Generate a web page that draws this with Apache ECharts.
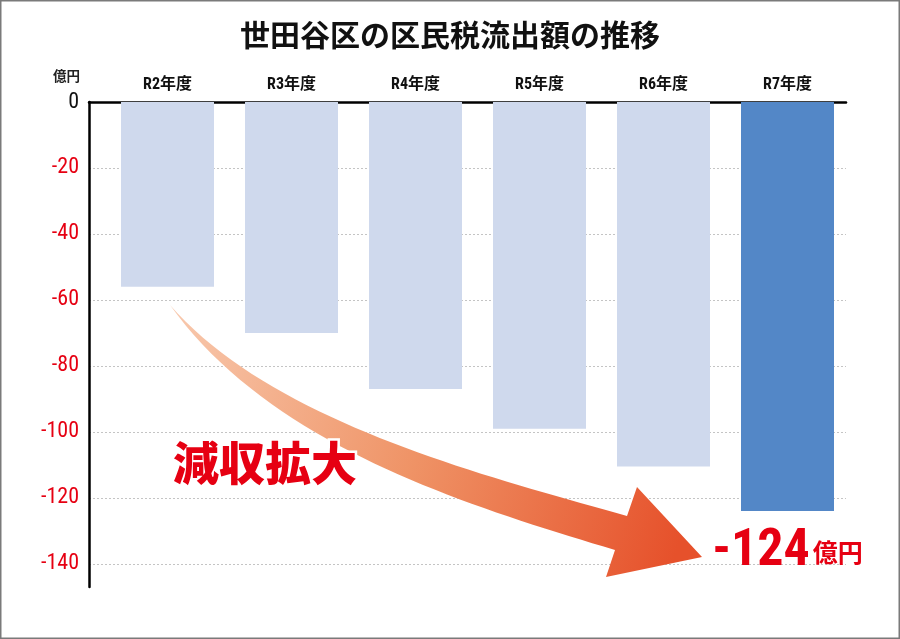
<!DOCTYPE html>
<html><head><meta charset="utf-8">
<script src="https://cdn.jsdelivr.net/npm/echarts@6.0.0/dist/echarts.min.js"></script>
<style>html,body{margin:0;padding:0;background:#fff}#c{width:900px;height:639px}</style>
</head><body><div id="c"></div>
<script>
const categories = ['R2年度','R3年度','R4年度','R5年度','R6年度','R7年度'];
const values = [-56, -70, -87, -99, -110.5, -124];
const yTicks = [0, -20, -40, -60, -80, -100, -120, -140];
const highlightIndex = 5;
const unitLabel = '億円';
const titleText = '世田谷区の区民税流出額の推移';
const calloutText = '減収拡大';

const NARROW = "'Roboto Condensed','Liberation Sans Narrow','Open Sans',Roboto,'Noto Sans CJK JP',sans-serif";
const CJK = "'Noto Sans CJK JP',sans-serif";
const RED = '#e60012';

const chart = echarts.init(document.getElementById('c'), null, {width: 900, height: 639});

const barData = values.map((v, i) => ({
  value: v,
  itemStyle: {color: i === highlightIndex ? '#5387c7' : '#cfd9ed'},
  label: i === highlightIndex ? {
    show: true, position: 'bottom', distance: 15,
    formatter: p => '{a|' + p.value + '}{b|' + unitLabel + '}',
    rich: {
      a: {fontFamily: NARROW, fontSize: 52, fontWeight: 'bold condensed', color: RED},
      b: {fontFamily: CJK, fontSize: 25, fontWeight: 'bold', color: RED, padding: [0, 0, 0, 3]}
    }
  } : {show: false}
}));

// decorative curved arrow (annotation), sampled from cubic curves
function cubic(p0, p1, p2, p3, n) {
  const out = [];
  for (let k = 0; k <= n; k++) {
    const t = k / n, u = 1 - t;
    out.push([
      u*u*u*p0[0] + 3*u*u*t*p1[0] + 3*u*t*t*p2[0] + t*t*t*p3[0],
      u*u*u*p0[1] + 3*u*u*t*p1[1] + 3*u*t*t*p2[1] + t*t*t*p3[1]
    ]);
  }
  return out;
}
const upper = cubic([170,305],[270,420],[477,474],[627,516], 40);
const lower = cubic([615,550],[465,505],[270,445],[170,305], 40);
const arrowPts = upper.concat([[637,487],[702,557],[606,577]], lower);

chart.setOption({
  animation: false,
  backgroundColor: '#fff',
  title: {
    text: titleText, left: 'center', top: 15,
    textStyle: {fontFamily: CJK, fontSize: 30, fontWeight: 'bold', color: '#111'}
  },
  grid: [
    {left: 89, right: 54, top: 102, bottom: 52},
    {left: 105.5, right: 50.5, top: 102, bottom: 52}
  ],
  xAxis: [
    {gridIndex: 0, type: 'category', position: 'top', data: categories,
     axisLine: {show: true, lineStyle: {color: '#000', width: 2.5}},
     axisTick: {show: false}, axisLabel: {show: false}, splitLine: {show: false}},
    {gridIndex: 1, type: 'category', position: 'top', data: categories,
     axisLine: {show: false}, axisTick: {show: false}, splitLine: {show: false},
     axisLabel: {margin: 9, fontFamily: NARROW, fontSize: 16, fontWeight: 'bold', color: '#111'}}
  ],
  yAxis: [
    {gridIndex: 0, type: 'value', min: -147, max: 0,
     name: unitLabel, nameLocation: 'end', nameGap: 19,
     nameTextStyle: {fontFamily: CJK, fontSize: 13.5, fontWeight: 'bold', color: '#222', align: 'right', padding: [0, 9, 0, 0]},
     axisLine: {show: true, lineStyle: {color: '#000', width: 2.5}},
     axisTick: {show: false, customValues: yTicks},
     axisLabel: {customValues: yTicks, margin: 10, fontFamily: NARROW, fontSize: 22, fontWeight: 'normal condensed',
       color: v => (Number(v) === 0 ? '#111' : RED),
       formatter: v => String(v)},
     splitLine: {show: true, lineStyle: {color: '#c4c4c4', width: 1, type: [2, 2]}}},
    {gridIndex: 1, type: 'value', min: -147, max: 0, show: false, splitLine: {show: false}}
  ],
  series: [{
    type: 'bar', xAxisIndex: 1, yAxisIndex: 1, data: barData, barWidth: '75%'
  }],
  graphic: [
    {type: 'polygon', z: 100, shape: {points: arrowPts},
     style: {fill: new echarts.graphic.LinearGradient(0, 0, 1, 0.6, [
       {offset: 0, color: '#f8c9ae'}, {offset: 0.5, color: '#ef9366'}, {offset: 1, color: '#e6512b'}])}},
    {type: 'text', z: 110, x: 265, y: 463,
     style: {text: calloutText, fontFamily: CJK, fontSize: 46, fontWeight: 900, fill: RED,
       stroke: '#fff', lineWidth: 5, strokeFirst: true, align: 'center', verticalAlign: 'middle'}},
    {type: 'rect', z: 120, shape: {x: 0.75, y: 0.75, width: 898.5, height: 637.5},
     style: {fill: 'none', stroke: '#7a7a7a', lineWidth: 1.5}}
  ]
});
</script>
</body></html>
